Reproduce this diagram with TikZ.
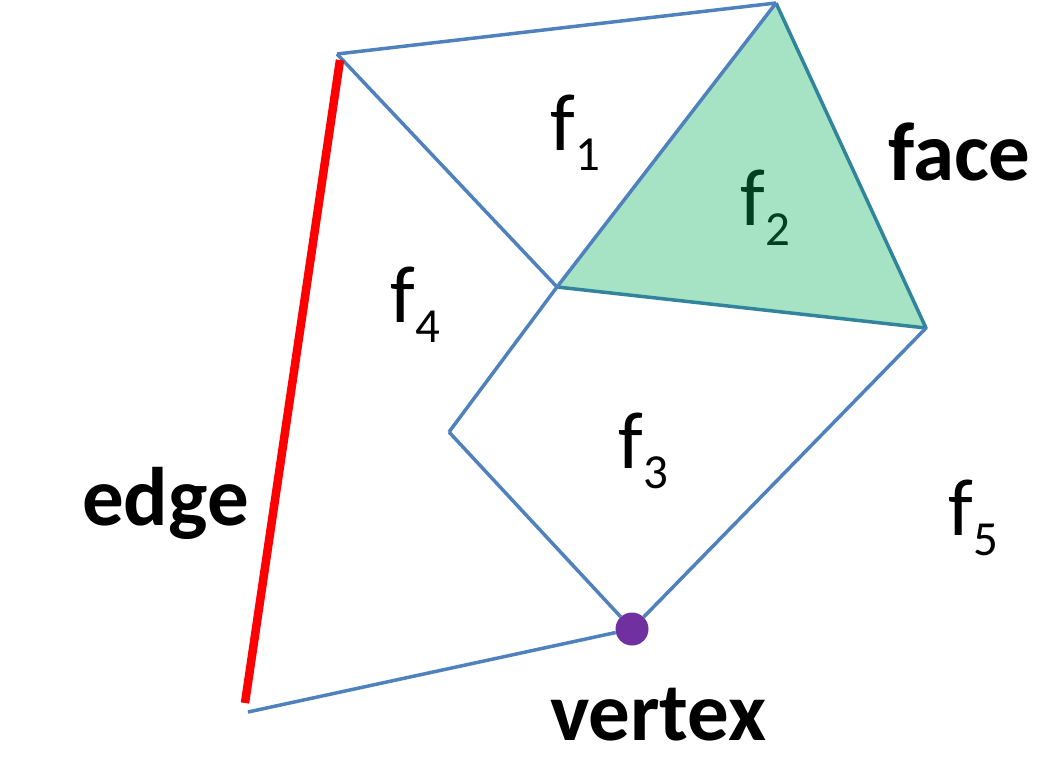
\documentclass[tikz,border=0pt]{standalone}
\usepackage{fontspec}
\setmainfont{Carlito}
\usepackage{xcolor}
\usepackage{tikz}
\usetikzlibrary{positioning, calc}
\definecolor{meshblue}{HTML}{4F81BD}
\definecolor{meshteal}{HTML}{31849B}
\definecolor{facegreen}{HTML}{A6E3C4}
\definecolor{labelgreen}{HTML}{003F1F}
\definecolor{vertexpurple}{HTML}{7030A0}
\newcommand{\facelabel}[1]{f\kern1pt\raisebox{-20pt}{\fontsize{49pt}{49pt}\selectfont #1}}

\begin{document}
\begin{tikzpicture}[
  x=1pt, y=-1pt,
  mesh/.style={draw=meshblue, line width=3.5pt},
  rim/.style={draw=meshteal, line width=3.5pt, line join=round},
  redge/.style={draw=red, line width=8.5pt},
  flabel/.style={anchor=base west, inner sep=0pt, font=\fontsize{81pt}{81pt}\selectfont},
  tag/.style={anchor=base west, inner sep=0pt, font=\fontsize{83pt}{83pt}\selectfont\bfseries},
  dot/.style={circle, fill=vertexpurple, minimum size=33pt, inner sep=0pt},
]
  \useasboundingbox (0,0) rectangle (1048,774);

  \coordinate (A) at (337,54);
  \coordinate (B) at (776,3);
  \coordinate (C) at (557,287);
  \coordinate (D) at (926,328);
  \coordinate (E) at (449,432);
  \coordinate (L) at (248,712);
  \coordinate (R1) at (340,60);
  \coordinate (R2) at (245,703);
  \node[dot] (V) at (632,629) {};

  % highlighted face
  \fill[facegreen] (C) -- (B) -- (D) -- cycle;
  \draw[rim] (B) -- (D) -- (C);

  \draw[mesh] (A) -- (B);
  \draw[mesh] (A) -- (C);
  \draw[mesh] (C) -- (B);
  \draw[mesh] (C) -- (E);
  \draw[mesh] (E) -- (V);
  \draw[mesh] (V) -- (D);
  \draw[mesh] (L) -- (V);
  \draw[redge] (R1) -- (R2);

  \node[flabel] (f1) at (550,150) {\facelabel{1}};
  \node[flabel, text=labelgreen] (f2) at (740,225) {\facelabel{2}};
  \node[flabel] (f3) at (618,468) {\facelabel{3}};
  \node[flabel] (f4) at (390,322) {\facelabel{4}};
  \node[flabel] (f5) at (948,535) {\facelabel{5}};

  \node[tag] (face) at (888,180) {face};
  \node[tag] (edge) at (82,525) {edge};
  \node[tag] (vertex) at (550,740) {vertex};
\end{tikzpicture}
\end{document}
